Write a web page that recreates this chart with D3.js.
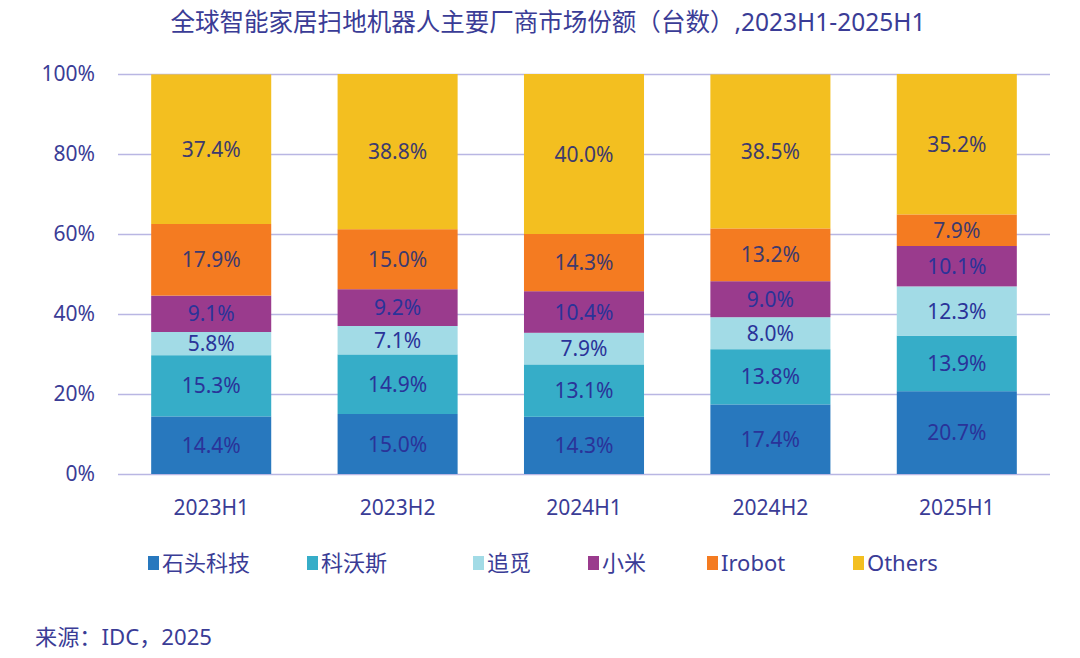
<!DOCTYPE html>
<html><head><meta charset="utf-8">
<script src="https://cdn.jsdelivr.net/npm/d3@7"></script>
<style>body{margin:0;background:#fff;}svg{display:block;font-family:"Noto Sans","Noto Sans CJK SC",sans-serif;}</style>
</head><body><svg id="c" width="1080" height="658"></svg>
<script>
const categories = ["2023H1","2023H2","2024H1","2024H2","2025H1"];
const seriesNames = ["石头科技","科沃斯","追觅","小米","Irobot","Others"];
const roborock = [14.4,15.0,14.3,17.4,20.7];
const ecovacs = [15.3,14.9,13.1,13.8,13.9];
const dreame = [5.8,7.1,7.9,8.0,12.3];
const xiaomi = [9.1,9.2,10.4,9.0,10.1];
const irobot = [17.9,15.0,14.3,13.2,7.9];
const others = [37.4,38.8,40.0,38.5,35.2];
const yTicks = [0,20,40,60,80,100];
const colors = ["#2878be","#36adc8","#a2dbe6","#9a3b8d","#f47b21","#f3bf20"];

(function(){
const values = [roborock,ecovacs,dreame,xiaomi,irobot,others];
const rows = categories.map((c,i)=>{const r={cat:c};seriesNames.forEach((s,j)=>r[s]=values[j][i]);return r;});
const svg = d3.select("#c");
const pL=118,pR=1050,pT=74,pB=474;
const x = d3.scaleBand().domain(categories).range([pL,pR]).paddingInner(0.356).paddingOuter(0.178);
const y = d3.scaleLinear().domain([0,100]).range([pB,pT]);
const textCol="#3a3c96";

svg.append("text").attr("x",548).attr("y",31).attr("text-anchor","middle").attr("font-size",24.5).attr("fill",textCol)
  .attr("textLength",755).attr("lengthAdjust","spacingAndGlyphs")
  .text("全球智能家居扫地机器人主要厂商市场份额（台数）,2023H1-2025H1");

const yAxis = svg.append("g").attr("transform",`translate(${pL},0)`)
  .call(d3.axisLeft(y).tickValues(yTicks).tickSize(-(pR-pL)).tickFormat(d=>d+"%"));
yAxis.select(".domain").remove();
yAxis.selectAll(".tick line").attr("stroke","#b9b6e3").attr("stroke-width",1.5);
yAxis.selectAll(".tick text").attr("x",-23).attr("font-size",21).attr("fill",textCol).attr("font-family","'Noto Sans',sans-serif");

const stack = d3.stack().keys(seriesNames)(rows);
const g = svg.append("g");
stack.forEach((layer,j)=>{
  g.selectAll(null).data(layer).enter().append("rect")
    .attr("x",d=>x(d.data.cat)).attr("width",x.bandwidth())
    .attr("y",d=>y(Math.min(d[1],100))).attr("height",d=>y(d[0])-y(Math.min(d[1],100)))
    .attr("fill",colors[j]);
});
stack.forEach((layer,j)=>{
  g.selectAll(null).data(layer).enter().append("text")
    .attr("x",d=>x(d.data.cat)+x.bandwidth()/2)
    .attr("y",d=>(y(d[0])+y(Math.min(d[1],100)))/2)
    .attr("dy","0.36em").attr("text-anchor","middle").attr("font-size",21)
    .attr("fill",(j>=4)?"#3d3a6e":"#2a3399")
    .text(d=>(d[1]-d[0]).toFixed(1)+"%");
});

const xAxis = svg.append("g").attr("transform",`translate(0,${pB})`).call(d3.axisBottom(x).tickSize(0));
xAxis.select(".domain").remove();
xAxis.selectAll(".tick text").attr("dy",0).attr("y",41).attr("font-size",21).attr("fill",textCol).attr("font-family","'Noto Sans',sans-serif");

const legX=[148,307,473,588,707,853];
const leg = svg.append("g");
seriesNames.forEach((s,j)=>{
  leg.append("rect").attr("x",legX[j]).attr("y",556).attr("width",11).attr("height",14).attr("fill",colors[j]);
  leg.append("text").attr("x",legX[j]+14).attr("y",563).attr("dy","0.36em").attr("font-size",22).attr("fill",textCol).text(s);
});

svg.append("text").attr("x",35).attr("y",645).attr("font-size",22).attr("fill",textCol)
  .attr("textLength",177).attr("lengthAdjust","spacingAndGlyphs").text("来源：IDC，2025");
})();
</script></body></html>
